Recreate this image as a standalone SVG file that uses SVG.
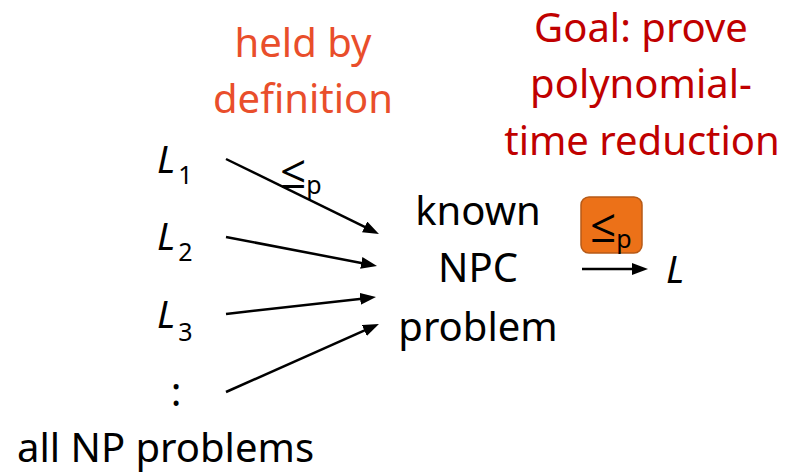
<svg xmlns="http://www.w3.org/2000/svg" width="792" height="474" viewBox="0 0 792 474">
  <style>
    text { font-family: "Noto Sans", "Open Sans", sans-serif; fill: #000; }
    .big { font-size: 40px; }
    .mid { text-anchor: middle; }
    .note { fill: #E94E2B; }
    .goal { fill: #C00000; }
    .var { font-size: 38px; font-style: italic; }
    .sub { font-size: 25px; font-style: normal; }
    .rel { font-size: 46px; }
    .conn { stroke: #000; stroke-width: 2.5; fill: none; marker-end: url(#head); }
  </style>
  <defs>
    <marker id="head" markerUnits="userSpaceOnUse" markerWidth="16" markerHeight="12" refX="4" refY="6" orient="auto">
      <path d="M0,0 L16,6 L0,12 z" fill="#000"/>
    </marker>
  </defs>
  <rect width="792" height="474" fill="#fff"/>

  <!-- annotation: held by definition -->
  <g id="note-definition">
    <text class="big mid note" x="303" y="57">held by</text>
    <text class="big mid note" x="303" y="113">definition</text>
  </g>

  <!-- annotation: goal -->
  <g id="note-goal">
    <text class="big mid goal" x="641" y="42">Goal: prove</text>
    <text class="big mid goal" x="641" y="98">polynomial-</text>
    <text class="big mid goal" x="642" y="155">time reduction</text>
  </g>

  <!-- source problems -->
  <g id="L1"><text class="var" x="157" y="173">L<tspan class="sub" dx="3" dy="11">1</tspan></text></g>
  <g id="L2"><text class="var" x="157" y="250">L<tspan class="sub" dx="3" dy="11">2</tspan></text></g>
  <g id="L3"><text class="var" x="157" y="328">L<tspan class="sub" dx="3" dy="13">3</tspan></text></g>
  <g id="more"><text class="big mid" x="176" y="406">:</text></g>
  <g id="all-np"><text class="big" x="17" y="462" font-size="39">all NP problems</text></g>

  <!-- target of the reductions -->
  <g id="known-npc">
    <text class="big mid" x="478" y="225">known</text>
    <text class="big mid" x="478" y="282">NPC</text>
    <text class="big mid" x="478" y="341">problem</text>
  </g>

  <!-- reduction target L -->
  <g id="L"><text class="var" x="666" y="283">L</text></g>

  <!-- highlighted reduction label -->
  <g id="reduction-box">
    <rect x="581" y="197" width="61" height="56" rx="8" fill="#EC7118" stroke="#B65A17" stroke-width="1.5"/>
    <text class="rel" x="590" y="242">≤<tspan class="sub" dx="0" dy="6">p</tspan></text>
  </g>

  <!-- connectors -->
  <g id="connectors">
    <line class="conn" x1="226" y1="159" x2="368.2" y2="228.7"/>
    <line class="conn" x1="226" y1="237" x2="365.2" y2="263.7"/>
    <line class="conn" x1="226" y1="314" x2="364.1" y2="298.4"/>
    <line class="conn" x1="226" y1="392" x2="368" y2="328.9"/>
    <line class="conn" x1="582" y1="269" x2="636" y2="269"/>
    <text class="rel" x="280" y="188">≤<tspan class="sub" dx="0" dy="6">p</tspan></text>
  </g>
</svg>
